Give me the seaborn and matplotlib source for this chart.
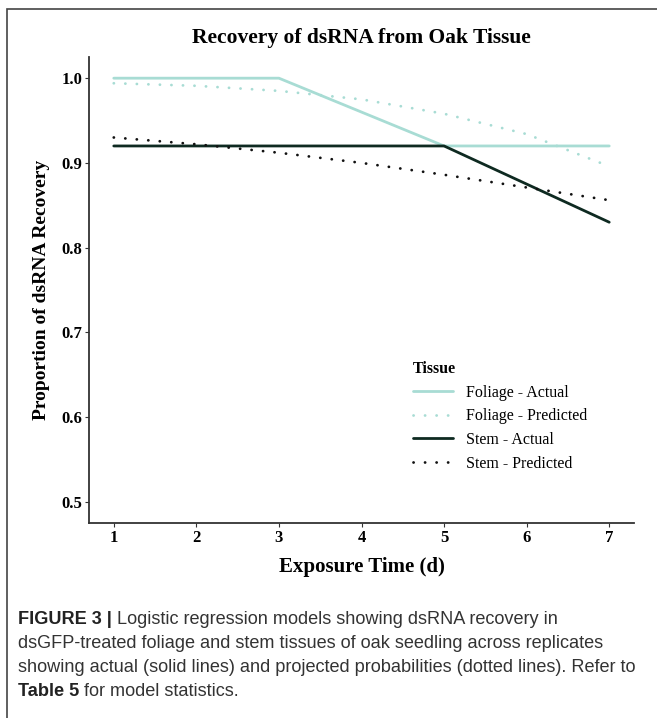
import numpy as np
import pandas as pd
import seaborn as sns
import matplotlib.pyplot as plt
from matplotlib.patches import Rectangle

# data
days_actual = [1, 3, 5, 7]
foliage_actual = [1.0, 1.0, 0.92, 0.92]
stem_actual = [0.92, 0.92, 0.92, 0.83]

days_pred = [1, 2, 3, 4, 5, 6, 7]
foliage_pred = [0.994, 0.991, 0.985, 0.975, 0.958, 0.934, 0.896]
stem_pred = [0.930, 0.922, 0.912, 0.900, 0.886, 0.871, 0.856]

series_names = ["Foliage - Actual", "Foliage - Predicted", "Stem - Actual", "Stem - Predicted"]
y_ticks = [0.5, 0.6, 0.7, 0.8, 0.9, 1.0]
x_ticks = [1, 2, 3, 4, 5, 6, 7]

caption_lines = [
    ("FIGURE 3 |", " Logistic regression models showing dsRNA recovery in"),
    ("", "dsGFP-treated foliage and stem tissues of oak seedling across replicates"),
    ("", "showing actual (solid lines) and projected probabilities (dotted lines). Refer to"),
    ("Table 5", " for model statistics."),
]

rows = []
for name, xs, ys in [(series_names[0], days_actual, foliage_actual),
                     (series_names[1], days_pred, foliage_pred),
                     (series_names[2], days_actual, stem_actual),
                     (series_names[3], days_pred, stem_pred)]:
    for x, y in zip(xs, ys):
        rows.append((name, x, y))
df = pd.DataFrame(rows, columns=["Tissue", "Day", "Recovery"])

sns.set_theme(style="white", rc={"text.color": "black", "axes.labelcolor": "black"})
plt.rcParams['font.family'] = ['Liberation Serif', 'DejaVu Serif']

teal = "#a8dcd4"
dark = "#0e2a21"
palette = {series_names[0]: teal, series_names[1]: teal, series_names[2]: dark, series_names[3]: "#111111"}
dot = (0.05, 4.1)
dashes = {series_names[0]: "", series_names[1]: dot, series_names[2]: "", series_names[3]: dot}

fig = plt.figure(figsize=(6.57, 7.18), dpi=100)
ax = fig.add_axes([89 / 657, 1 - 523 / 718, (634 - 89) / 657, (523 - 57) / 718])

sns.lineplot(data=df, x="Day", y="Recovery", hue="Tissue", style="Tissue",
             palette=palette, dashes=dashes, hue_order=series_names, style_order=series_names,
             linewidth=2.0, ax=ax)
for line in ax.get_lines():
    line.set_dash_capstyle("round")

ax.set_xlim(0.7, 7.3)
ax.set_ylim(0.475, 1.025)
ax.set_xticks(x_ticks)
ax.set_yticks(y_ticks)
ax.set_yticklabels([f"{v:.1f}" for v in y_ticks])
ax.tick_params(axis="both", which="both", length=3, width=0.8, color="#333333",
               labelsize=12, labelcolor="black", pad=2, bottom=True, left=True)
for lab in ax.get_xticklabels() + ax.get_yticklabels():
    lab.set_fontweight("bold")
sns.despine(ax=ax)
for side in ["left", "bottom"]:
    ax.spines[side].set_color("#333333")
    ax.spines[side].set_linewidth(1.3)

ax.set_xlabel("Exposure Time (d)", fontsize=15, fontweight="bold", labelpad=8)
ax.set_ylabel("Proportion of dsRNA Recovery", fontsize=14, fontweight="bold", labelpad=8)
ax.set_title("Recovery of dsRNA from Oak Tissue", fontsize=15.5, fontweight="bold", pad=10)

handles, labels = ax.get_legend_handles_labels()
leg = ax.legend(handles, labels, title="Tissue", loc="upper left",
                bbox_to_anchor=(413 / 657, 1 - 361 / 718), bbox_transform=fig.transFigure,
                frameon=False, fontsize=11.5, title_fontproperties={"weight": "bold", "size": 11.5},
                handlelength=2.5, labelspacing=0.48, handletextpad=0.8, borderpad=0, borderaxespad=0)
leg._legend_box.align = "left"
for h in leg.legend_handles:
    h.set_linewidth(2.0)
    h.set_dash_capstyle("round")

# frame around the whole panel
fig.add_artist(Rectangle((7 / 657, -0.05), 1.2, 1 - 9 / 718 + 0.05, transform=fig.transFigure,
                         fill=False, edgecolor="#444444", linewidth=1.2))

# caption
renderer = fig.canvas.get_renderer()
cap_y = [620, 644, 668, 692]
for (bold_part, rest), yp in zip(caption_lines, cap_y):
    x0 = 18 / 657
    y0 = 1 - yp / 718
    if bold_part:
        t = fig.text(x0, y0, bold_part, fontsize=13.1, fontweight="bold", family="Liberation Sans",
                     color="#222222", va="center", ha="left")
        bb = t.get_window_extent(renderer)
        x0 = bb.x1 / fig.bbox.width
    fig.text(x0, y0, rest, fontsize=13.1, family="Liberation Sans", color="#333333",
             va="center", ha="left")

fig.savefig("out.png", dpi=100)
